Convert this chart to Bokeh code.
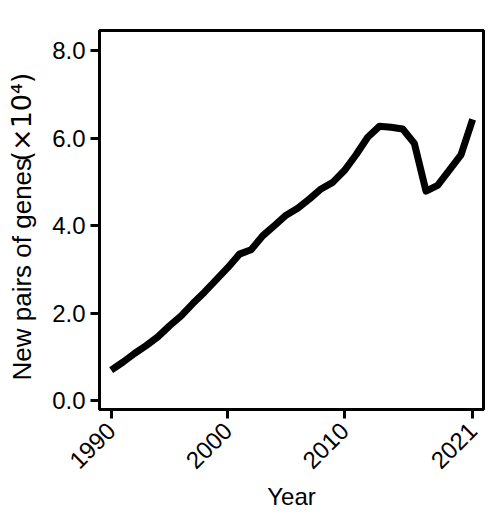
import math
from bokeh.plotting import figure
from bokeh.layouts import row
from bokeh.models import FixedTicker, Range1d
from bokeh.core.properties import value
from bokeh.embed import file_html
from bokeh.resources import INLINE

years = list(range(1990, 2022))
pairs = [0.70, 0.88, 1.08, 1.26, 1.46, 1.71, 1.94, 2.22, 2.48, 2.76,
         3.04, 3.35, 3.45, 3.77, 4.00, 4.24, 4.40, 4.61, 4.84, 4.99,
         5.26, 5.62, 6.02, 6.27, 6.25, 6.21, 5.88, 4.79, 4.92, 5.27,
         5.62, 6.43]
x_ticks = [1990, 2000, 2010, 2021]
y_ticks = [0, 2, 4, 6, 8]
x_title = "Year"
y_title_main = "New pairs of genes"
y_title_unit = "(\u00d710\u2074)"

FONT = "Liberation Sans"
W, H = 488, 515
SIDE_W = 45
FRAME_L, FRAME_R, FRAME_T, FRAME_B = 99, 483, 30, 409
Y0, Y1 = -0.2, 8.46
yr = Range1d(Y0, Y1)
px_per_y = (FRAME_B - FRAME_T) / (Y1 - Y0)
def dy(page_y):
    return Y0 + (FRAME_B - page_y) / px_per_y

# ---- side strip holding the y-axis title (frame aligned with main frame) ----
side = figure(width=SIDE_W, height=H, output_backend="svg", toolbar_location=None,
              x_range=Range1d(0, SIDE_W), y_range=yr,
              x_axis_location=None, y_axis_location=None,
              min_border_left=0, min_border_right=0,
              min_border_top=FRAME_T, min_border_bottom=H - FRAME_B)
side.xgrid.visible = False
side.ygrid.visible = False
side.outline_line_color = None
side.text(x=[21], y=[dy(380)], text=[y_title_main], angle=math.pi / 2,
          text_align="left", text_baseline="alphabetic",
          text_font=value(FONT), text_font_size="26px", text_color="black")
side.text(x=[21], y=[dy(161)], text=[y_title_unit], angle=math.pi / 2,
          text_align="left", text_baseline="alphabetic",
          text_font=value("DejaVu Sans"), text_font_size="27px", text_color="black")

# ---- main chart ----
p = figure(width=W - SIDE_W, height=H, output_backend="svg", toolbar_location=None,
           x_range=Range1d(1989.0, 2021.93), y_range=yr,
           min_border_left=FRAME_L - SIDE_W, min_border_right=W - FRAME_R,
           min_border_top=FRAME_T, min_border_bottom=H - FRAME_B)

p.line(years, pairs, line_color="black", line_width=7, line_join="round", line_cap="butt")

p.xgrid.visible = False
p.ygrid.visible = False
p.outline_line_color = "black"
p.outline_line_width = 3
p.outline_line_alpha = 1

for ax in (p.xaxis[0], p.yaxis[0]):
    ax.axis_line_width = 3
    ax.major_tick_line_width = 3
    ax.major_tick_in = 0
    ax.major_tick_out = 9
    ax.minor_tick_line_color = None
    ax.major_label_text_font = FONT
    ax.major_label_text_font_size = "24px"
    ax.major_label_text_color = "black"
    ax.axis_label_text_font = FONT
    ax.axis_label_text_font_size = "24px"
    ax.axis_label_text_font_style = "normal"
    ax.axis_label_text_color = "black"

p.xaxis.ticker = FixedTicker(ticks=x_ticks)
p.yaxis.ticker = FixedTicker(ticks=y_ticks)
p.yaxis.major_label_overrides = {v: f"{v:.1f}" for v in y_ticks}
p.xaxis.major_label_orientation = math.pi / 4
p.xaxis.major_label_standoff = 8
p.yaxis.major_label_standoff = 5
p.xaxis.axis_label = x_title
p.xaxis.axis_label_standoff = 4

layout = row(side, p, spacing=0)
open("out.html", "w").write(file_html(layout, INLINE))
